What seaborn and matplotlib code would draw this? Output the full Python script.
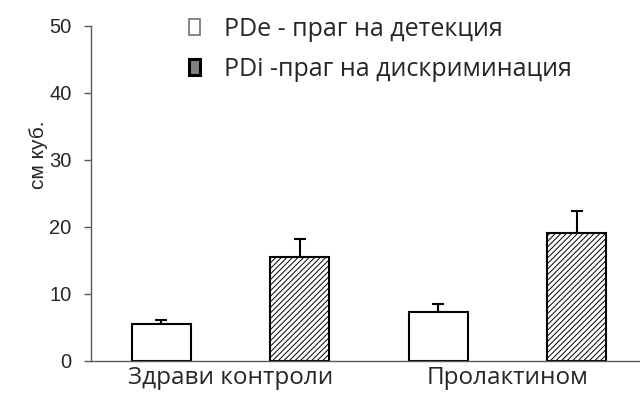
import matplotlib
matplotlib.use("Agg")
import matplotlib.pyplot as plt
import numpy as np
import pandas as pd
import seaborn as sns
from matplotlib.patches import Patch

# values
groups = ["Здрави контроли", "Пролактином"]
series = ["PDe - праг на детекция", "PDi -праг на дискриминация"]
pde_mean = [5.4, 7.2]
pdi_mean = [15.4, 19.0]
pde_err = [0.7, 1.2]
pdi_err = [2.7, 3.3]
yticks = [0, 10, 20, 30, 40, 50]

sns.set_style("white")
plt.rcParams["hatch.linewidth"] = 0.7

df = pd.DataFrame({
    "group": groups * 2,
    "series": [series[0]] * 2 + [series[1]] * 2,
    "value": pde_mean + pdi_mean,
})
errs = pde_err + pdi_err

fig = plt.figure(figsize=(6.4, 3.98), dpi=100)
ax = fig.add_axes([0.1422, 0.0942, 0.8578, 0.8417])

sns.barplot(data=df, x="group", y="value", hue="series", order=groups,
            hue_order=series, palette=["white", "white"], width=1.0, gap=0.574,
            errorbar=None, edgecolor="black", linewidth=1.5, legend=False, ax=ax)

# hatch the PDi bars, then add upper-only error bars at the bar centres
bars = [p for p in ax.patches if p.get_height() > 0]
for i, p in enumerate(bars):
    if i >= 2:
        p.set_hatch("//////")
    p.set_zorder(2)
xs = [p.get_x() + p.get_width() / 2 for p in bars]
hs = [p.get_height() for p in bars]
ax.errorbar(xs, hs, yerr=[np.zeros(len(errs)), errs], fmt="none", ecolor="black",
            elinewidth=1.5, capsize=4.5, capthick=1.5, zorder=1)

ax.set_xlim(-0.503, 1.479)
ax.set_ylim(0, 50)
ax.set_yticks(yticks)
ax.set_xlabel("")
ax.set_ylabel("см куб.", fontsize=15, family="Liberation Sans")
ax.yaxis.set_label_coords(-0.078, 0.613)

sns.despine(ax=ax)
for s in ["left", "bottom"]:
    ax.spines[s].set_color("#595959")
    ax.spines[s].set_linewidth(1.0)
ax.tick_params(axis="y", direction="out", length=5, width=1.0, color="#595959",
               pad=9, labelsize=14.5, left=True)
ax.tick_params(axis="x", length=0, pad=4, labelsize=17.5)
for t in ax.get_yticklabels():
    t.set_family("Liberation Sans")
for t in ax.get_xticklabels():
    t.set_family("Open Sans")

handles = [
    Patch(facecolor="white", edgecolor="#707070", linewidth=1.2),
    Patch(facecolor="#808080", edgecolor="black", linewidth=2.2),
]
fig.legend(handles, series, loc="upper left", bbox_to_anchor=(0.295, 0.958),
           frameon=False, borderpad=0, borderaxespad=0, handlelength=0.45,
           handleheight=0.6, handletextpad=0.95, labelspacing=0.6,
           prop={"family": "Open Sans", "size": 18})

fig.savefig("out.png", dpi=100)
